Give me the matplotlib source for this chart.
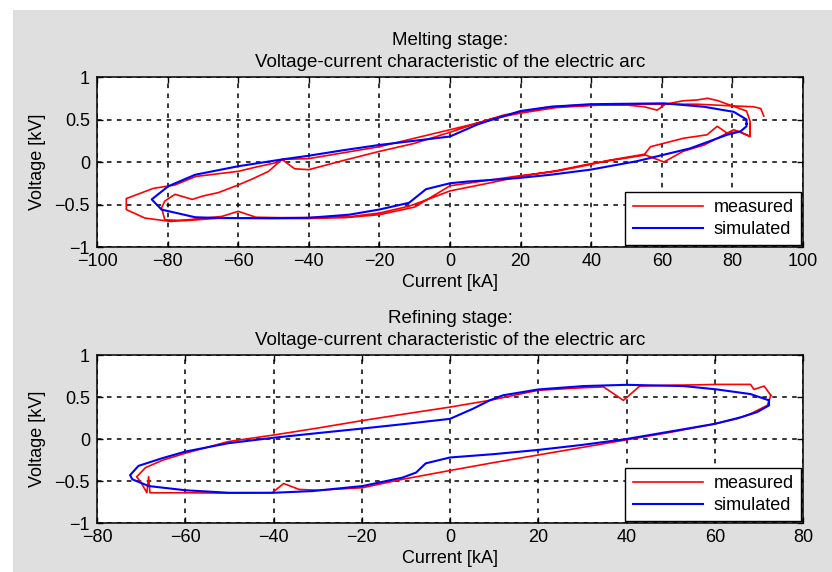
import matplotlib
matplotlib.use("Agg")
import matplotlib.pyplot as plt
from matplotlib.patches import Rectangle
import numpy as np

# ---------------- data ----------------
# Melting stage: measured (two cycles)
melt_meas_I = [88.9, 88, 86, 80, 76, 73, 70, 66, 61, 58.7, 55, 50, 43.6, 35, 28.5, 20, 15, 9.6, 5, 0,
               -10, -20, -30, -40, -47.6, -49.5, -55, -60, -66, -72, -77.9, -84, -91.7, -91.7, -86.4, -79,
               -72, -64.6, -60, -55, -48, -42, -35, -27.7, -20, -11.6, -5, 0, 9.6, 20, 30.4, 39.8, 47.4,
               54.9, 56.8, 66.2, 72.8, 75.7, 78.5, 82, 85, 85, 84,
               80, 70, 60, 50, 40, 30, 20, 12, 8, 0, -10, -20, -30, -40, -44, -47.6, -51.4, -56, -60,
               -65.6, -70, -73, -77.9, -80.8, -81.7, -80.8, -75, -65, -50, -40, -30, -20, -10, 0, 10,
               20, 30, 39.8, 45, 54.9, 60.6, 66, 72, 80.4, 85, 85]
melt_meas_V = [0.54, 0.63, 0.65, 0.66, 0.72, 0.75, 0.73, 0.72, 0.68, 0.61, 0.65, 0.67, 0.67, 0.665, 0.65,
               0.59, 0.55, 0.48, 0.43, 0.38, 0.28, 0.18, 0.11, 0.04, 0.03, -0.01, -0.06, -0.11, -0.14,
               -0.17, -0.27, -0.31, -0.43, -0.56, -0.66, -0.70, -0.67, -0.64, -0.58, -0.65, -0.655,
               -0.656, -0.65, -0.64, -0.60, -0.52, -0.42, -0.34, -0.26, -0.17, -0.10, -0.02, 0.03,
               0.08, 0.18, 0.28, 0.32, 0.42, 0.34, 0.36, 0.30, 0.48, 0.60,
               0.66, 0.68, 0.68, 0.68, 0.665, 0.64, 0.575, 0.51, 0.46, 0.35, 0.22, 0.125, 0.02, -0.09,
               -0.08, 0.03, -0.11, -0.20, -0.27, -0.36, -0.40, -0.44, -0.38, -0.46, -0.54, -0.68,
               -0.69, -0.66, -0.665, -0.665, -0.655, -0.62, -0.53, -0.28, -0.22, -0.16, -0.11, -0.03,
               0.02, 0.09, 0.0, 0.125, 0.2, 0.38, 0.30, 0.45]

# Melting stage: simulated
melt_sim_I = [84, 84, 80.4, 71.9, 60.6, 50, 39.8, 28.5, 20, 10.6, 7.7, 0, -10, -20.1, -30, -40, -47.6,
              -60, -72.2, -79.8, -84.5, -81.7, -72.2, -64.6, -50, -40, -28.6, -20.1, -11.6, -6.8, 0,
              4.9, 19, 28.5, 39.8, 53, 68, 78.5, 82.3, 84, 84]
melt_sim_V = [0.45, 0.50, 0.59, 0.65, 0.69, 0.685, 0.68, 0.65, 0.60, 0.48, 0.44, 0.30, 0.25, 0.20, 0.14,
              0.074, 0.03, -0.05, -0.15, -0.285, -0.44, -0.56, -0.65, -0.66, -0.66, -0.656, -0.62,
              -0.56, -0.48, -0.32, -0.25, -0.23, -0.19, -0.15, -0.09, 0.01, 0.16, 0.32, 0.36, 0.42, 0.45]

# Refining stage: measured
ref_meas_I = [72.7, 71.2, 68.9, 68.1, 60, 56.7, 50, 43, 39.3, 34.8, 30, 20, 9, 0, -10, -19.8, -30, -40,
              -50.2, -60, -65, -69, -71, -70, -68.7, -68.3, -68, -60, -50, -40.3, -37.7, -34.2, -30,
              -19.8, -10.8, 0, 10, 20, 30, 40, 50, 60, 65, 68.1, 71.9, 72.7]
ref_meas_V = [0.52, 0.63, 0.59, 0.65, 0.65, 0.645, 0.64, 0.63, 0.46, 0.62, 0.61, 0.58, 0.46, 0.38, 0.30,
              0.22, 0.13, 0.047, -0.03, -0.17, -0.25, -0.34, -0.45, -0.52, -0.64, -0.45, -0.64, -0.64,
              -0.645, -0.64, -0.53, -0.60, -0.61, -0.58, -0.48, -0.375, -0.28, -0.19, -0.10, -0.01,
              0.08, 0.18, 0.24, 0.30, 0.40, 0.52]

# Refining stage: simulated
ref_sim_I = [72.3, 68.1, 60.5, 53, 40, 30.2, 20, 12, 9, 5.2, 0, -10, -19.8, -30, -40, -50.2, -60, -65.3,
             -70.6, -72.5, -72, -68.3, -60, -50.2, -40, -31.2, -19.8, -10.8, -7.7, -5.5, 0, 10, 20, 30,
             40, 50, 60, 66, 69.6, 72.3, 72.3]
ref_sim_V = [0.46, 0.535, 0.59, 0.63, 0.645, 0.63, 0.59, 0.52, 0.46, 0.36, 0.24, 0.18, 0.125, 0.07,
             0.015, -0.05, -0.15, -0.23, -0.32, -0.43, -0.48, -0.56, -0.61, -0.64, -0.64, -0.62, -0.56,
             -0.46, -0.40, -0.29, -0.22, -0.18, -0.13, -0.07, 0.0, 0.09, 0.18, 0.26, 0.32, 0.40, 0.46]

melt_xticks = [-100, -80, -60, -40, -20, 0, 20, 40, 60, 80, 100]
ref_xticks = [-80, -60, -40, -20, 0, 20, 40, 60, 80]
yticks = [-1, -0.5, 0, 0.5, 1]
ytick_labels = ["\u22121", "\u22120.5", "0", "0.5", "1"]

titles = ["Melting stage:\nVoltage-current characteristic of the electric arc",
          "Refining stage:\nVoltage-current characteristic of the electric arc"]
xlabel = "Current [kA]"
ylabel = "Voltage [kV]"
legend_labels = ["measured", "simulated"]

# ---------------- plot ----------------
plt.rcParams['font.family'] = ['Liberation Sans', 'DejaVu Sans']
plt.rcParams['axes.unicode_minus'] = True
FS = 13
TFS = 13.5

W, H = 832, 572
fig = plt.figure(figsize=(W / 100, H / 100), dpi=100, facecolor='white')
fig.patches.append(Rectangle((13 / W, 0), 1 - 13 / W, 1 - 10 / H, transform=fig.transFigure,
                             facecolor='#dfdfdf', edgecolor='none', zorder=-10))

ax1 = fig.add_axes([97 / W, 1 - 247 / H, (803 - 97) / W, (247 - 77) / H])
ax2 = fig.add_axes([97 / W, 1 - 523 / H, (803 - 97) / W, (523 - 355) / H])

panels = [
    (ax1, melt_meas_I, melt_meas_V, melt_sim_I, melt_sim_V, (-100, 100), melt_xticks, titles[0]),
    (ax2, ref_meas_I, ref_meas_V, ref_sim_I, ref_sim_V, (-80, 80), ref_xticks, titles[1]),
]

for ax, mi, mv, si, sv, xl, xt, title in panels:
    ax.set_facecolor('white')
    ax.plot(mi, mv, color='#ff0000', lw=1.2, label=legend_labels[0], zorder=3)
    ax.plot(si, sv, color='#0000ff', lw=1.5, label=legend_labels[1], zorder=4)
    ax.set_xlim(*xl)
    ax.set_ylim(-1, 1)
    ax.set_xticks(xt)
    ax.set_xticklabels([("\u2212" + str(abs(v))) if v < 0 else str(v) for v in xt])
    ax.set_yticks(yticks)
    ax.set_yticklabels(ytick_labels)
    ax.grid(True, color='black', linestyle=(0, (3, 3.5)), linewidth=1.1)
    ax.set_axisbelow(True)
    ax.tick_params(direction='in', length=4, width=1, top=True, right=True,
                   labelsize=FS, colors='black')
    ax.tick_params(axis='x', pad=4)
    ax.tick_params(axis='y', pad=5)
    for sp in ax.spines.values():
        sp.set_linewidth(1.1)
        sp.set_color('black')
    ax.set_xlabel(xlabel, fontsize=FS, labelpad=3)
    ax.set_ylabel(ylabel, fontsize=FS, labelpad=6)
    ax.set_title(title, fontsize=TFS, linespacing=1.4, pad=7)
    leg = ax.legend(loc='lower right', fontsize=FS, frameon=True, fancybox=False,
                    edgecolor='black', framealpha=1, borderaxespad=0.1, handlelength=3.9,
                    handletextpad=0.6, labelspacing=0.25, borderpad=0.4)
    leg.get_frame().set_linewidth(1.0)

fig.savefig("out.png", dpi=100, facecolor=fig.get_facecolor())
